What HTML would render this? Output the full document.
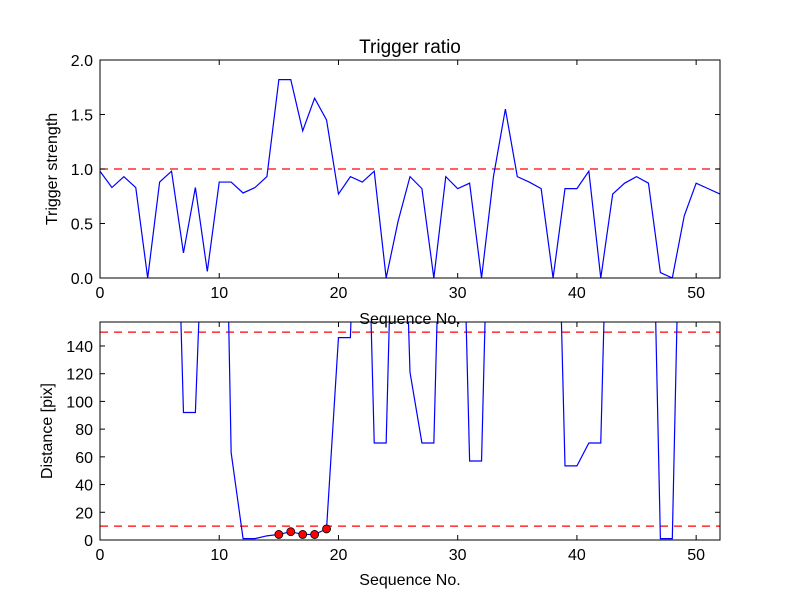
<!DOCTYPE html>
<html><head><meta charset="utf-8"><style>
body{margin:0;background:#fff}
svg{display:block;font-family:"Liberation Sans","DejaVu Sans",sans-serif}
</style></head><body>
<svg id="c" width="800" height="600" viewBox="0 0 800 600"></svg>
<script>
const seqTop = [0,1,2,3,4,5,6,7,8,9,10,11,12,13,14,15,16,17,18,19,20,21,22,23,24,25,26,27,28,29,30,31,32,33,34,35,36,37,38,39,40,41,42,43,44,45,46,47,48,49,50,51,52];
const strength = [0.98,0.83,0.93,0.83,0.0,0.88,0.98,0.23,0.83,0.06,0.88,0.88,0.78,0.83,0.93,1.82,1.82,1.35,1.65,1.45,0.77,0.93,0.88,0.98,0.0,0.52,0.93,0.82,0.0,0.93,0.82,0.87,0.0,0.93,1.55,0.93,0.88,0.82,0.0,0.82,0.82,0.98,0.0,0.77,0.87,0.93,0.87,0.05,0.0,0.57,0.87,0.82,0.77];
const distance = [400,400,400,400,400,400,400,92,92,320,520,63,1,1,3,4,6,4,4,8,146,146,400,70,70,400,121,70,70,400,400,57,57,400,400,400,400,400,400,53.5,53.5,70,70,400,400,400,400,1,1,400,400,400,400];
const markX = [15,16,17,18,19];
const markY = [4,6,4,4,8];
const xTicks = [0,10,20,30,40,50];
const topYTicks = [0.0,0.5,1.0,1.5,2.0];
const botYTicks = [0,20,40,60,80,100,120,140];
const topThresh = [1.0];
const botThresh = [10,150];

const svg=document.getElementById('c');
const NS='http://www.w3.org/2000/svg';
function mk(t,a,p){const e=document.createElementNS(NS,t);for(const k in a)e.setAttribute(k,a[k]);(p||svg).appendChild(e);return e;}
const L=100,R=720,XMAX=52;
const sx=v=>L+(v/XMAX)*(R-L);

function panel(top,bot,ymax,name){
  const sy=v=>bot-(v/ymax)*(bot-top);
  const g=mk('g',{});
  
  
  const cid='clip'+name;
  const cp=mk('clipPath',{id:cid},g);mk('rect',{x:L,y:top,width:R-L,height:bot-top},cp);
  const plot=mk('g',{'clip-path':'url(#'+cid+')'},g);
  return {g,plot,sy};
}
function axesFrame(g,top,bot,sy,yT,fmt){
  xTicks.forEach(t=>{const x=sx(t);
    mk('line',{x1:x,x2:x,y1:bot,y2:bot-5,stroke:'#000'},g);
    mk('line',{x1:x,x2:x,y1:top,y2:top+5,stroke:'#000'},g);
    const tx=mk('text',{x:x,y:bot+20,'font-size':16,'text-anchor':'middle'},g);tx.textContent=t;
    
    });
  yT.forEach(t=>{const y=sy(t);
    mk('line',{x1:L,x2:L+5,y1:y,y2:y,stroke:'#000'},g);
    mk('line',{x1:R,x2:R-5,y1:y,y2:y,stroke:'#000'},g);
    const tx=mk('text',{x:L-7,y:y+6,'font-size':16,'text-anchor':'end'},g);tx.textContent=fmt(t);
    
    });
  mk('rect',{x:L,y:top,width:R-L,height:bot-top,fill:'none',stroke:'#000','stroke-width':1},g);
}

const T=panel(60,278,2,'trigger-panel');
topThresh.forEach(v=>{const l=mk('line',{x1:L,x2:R,y1:T.sy(v),y2:T.sy(v),stroke:'#f00','stroke-dasharray':'8,6','stroke-width':1.2},T.plot);
  });
const p1=mk('polyline',{points:seqTop.map((x,i)=>sx(x)+','+T.sy(strength[i])).join(' '),fill:'none',stroke:'#00f','stroke-width':1.2},T.plot);


axesFrame(T.g,60,278,T.sy,topYTicks,v=>v.toFixed(1));

const B=panel(322,540,157.3,'distance-panel');
botThresh.forEach(v=>{const l=mk('line',{x1:L,x2:R,y1:B.sy(v),y2:B.sy(v),stroke:'#f00','stroke-dasharray':'8,6','stroke-width':1.2},B.plot);
  });
const p2=mk('polyline',{points:seqTop.map((x,i)=>sx(x)+','+B.sy(distance[i])).join(' '),fill:'none',stroke:'#00f','stroke-width':1.2},B.plot);


markX.forEach((x,i)=>{const c=mk('circle',{cx:sx(x),cy:B.sy(markY[i]),r:4,fill:'#f00',stroke:'#000','stroke-width':0.8},B.g);
  });
axesFrame(B.g,322,540,B.sy,botYTicks,v=>v);

function txt(s,a,name){const t=mk('text',a);t.textContent=s;return t;}
txt('Trigger ratio',{x:410,y:53,'font-size':19,'text-anchor':'middle'},'chart-title');
txt('Sequence No.',{x:410,y:324,'font-size':16,'text-anchor':'middle'},'top-x-axis-title');
txt('Sequence No.',{x:410,y:585,'font-size':16,'text-anchor':'middle'},'bottom-x-axis-title');
txt('Trigger strength',{x:57,y:169,'font-size':16,'text-anchor':'middle',transform:'rotate(-90 57 169)'},'top-y-axis-title');
txt('Distance [pix]',{x:52,y:431,'font-size':16,'text-anchor':'middle',transform:'rotate(-90 52 431)'},'bottom-y-axis-title');
</script>
</body></html>
